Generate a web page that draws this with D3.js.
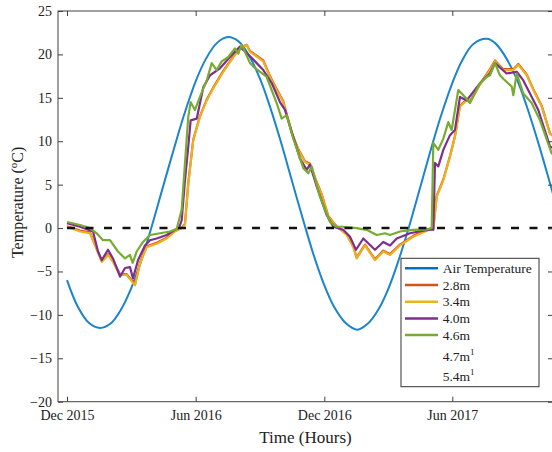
<!DOCTYPE html>
<html>
<head>
<meta charset="utf-8">
<script src="https://cdn.jsdelivr.net/npm/d3@7"></script>
<style>
    body { margin: 0; background: #fff; }
    svg { display: block; font-family: "Liberation Serif", "Times New Roman", serif; }
</style>
</head>
<body>
<div id="chart"></div>
<script>
// time is stored as days since 1 Dec 2015
var startDate = new Date(2015, 11, 1);

var xTickDates = [new Date(2015, 11, 1), new Date(2016, 5, 1), new Date(2016, 11, 1), new Date(2017, 5, 1)];
var yTicks = [-20, -15, -10, -5, 0, 5, 10, 15, 20, 25];

var airDays = [0, 15, 31, 47, 62, 76, 91, 105, 122, 136, 152, 166, 183, 197, 213, 229, 244, 258, 275, 289,
    305, 319, 336, 350, 366, 380, 397, 413, 428, 442, 456, 470, 487, 501, 517, 531, 548, 562, 578, 597,
    609, 623, 640, 654, 670, 684, 701];
var airTemp = [-6.0, -9.0, -10.9, -11.5, -11.0, -9.5, -7.0, -3.9, 0.6, 4.6, 9.1, 12.9, 16.9, 19.4, 21.3, 22.0,
    21.5, 20.0, 17.1, 13.9, 9.7, 5.7, 0.9, -2.9, -6.6, -9.1, -11.0, -11.7, -11.0, -9.5, -7.2, -4.1, 0.3, 4.3,
    8.9, 12.7, 16.7, 19.3, 21.2, 21.8, 21.3, 19.8, 17.1, 14.0, 9.9, 6.0, 1.1];

// [day, temperature]
var depth28 = [[0,0.2],[18.5,-0.3],[32.7,-0.5],[39.8,-1.9],[49.4,-3.8],[58.7,-3.0],[65.4,-3.8],[75.4,-5.3],
    [84.9,-5.3],[96.7,-6.5],[103.8,-4.0],[113.3,-2.1],[127.6,-1.7],[141.8,-1.1],[153.6,-0.3],[163.1,0],
    [167.8,0.5],[172.5,5.2],[179.6,10.2],[189.1,12.9],[198.7,14.8],[208.1,16.2],[222.3,18.1],[234.2,19.5],
    [246,20.8],[255.6,21.1],[260.3,20.4],[279.2,19.3],[288.7,17.5],[298.2,16.0],[307.6,14.6],[312.5,13.1],
    [319.6,11.0],[328.9,9.1],[338.5,7.7],[345.6,7.4],[352.7,5.8],[362.2,3.9],[371.6,1.4],[383.6,0.2],
    [397.8,-0.7],[407.2,-2.1],[412,-3.4],[423.8,-1.9],[438,-3.6],[449.8,-2.6],[459.4,-3.0],[473.6,-1.9],
    [492.5,-0.9],[511.6,-0.2],[521,0],[525.8,3.7],[535.2,5.6],[544.7,8.3],[551.8,10.6],[558.9,14.1],
    [568.5,14.8],[573.1,14.6],[587.4,16.6],[601.6,18.3],[608.7,19.3],[620.5,18.3],[634.8,18.3],[641.9,18.9],
    [653.8,17.7],[663.2,16.0],[675.1,14.1],[686.9,10.9],[701,10.0]];
var depth34 = [[0,0.15],[18.5,-0.4],[32.7,-0.6],[39.8,-2.0],[49.4,-3.9],[58.7,-3.1],[65.4,-3.9],[75.4,-5.4],
    [84.9,-5.4],[96.7,-6.6],[103.8,-4.1],[113.3,-2.2],[127.6,-1.8],[141.8,-1.2],[153.6,-0.4],[163.1,0],
    [167.8,0.4],[172.5,5.1],[179.6,10.1],[189.1,12.8],[198.7,14.7],[208.1,16.1],[222.3,18.0],[234.2,19.4],
    [246,20.7],[255.6,21.1],[260.3,20.3],[279.2,19.2],[288.7,17.4],[298.2,15.9],[307.6,14.5],[312.5,13.0],
    [319.6,10.9],[328.9,9.0],[338.5,7.6],[345.6,7.3],[352.7,5.7],[362.2,3.8],[371.6,1.3],[383.6,0.15],
    [397.8,-0.8],[407.2,-2.2],[412,-3.5],[423.8,-2.0],[438,-3.7],[449.8,-2.7],[459.4,-3.1],[473.6,-2.0],
    [492.5,-1.0],[511.6,-0.3],[521,-0.1],[525.8,3.6],[535.2,5.5],[544.7,8.2],[551.8,10.5],[558.9,14.0],
    [568.5,14.7],[573.1,14.5],[587.4,16.5],[601.6,18.2],[608.7,19.2],[620.5,18.2],[634.8,18.2],[641.9,18.8],
    [653.8,17.6],[663.2,15.9],[675.1,14.0],[686.9,10.9],[701,10.0]];
var depth40 = [[0,0.55],[18.5,0.15],[37,-0.4],[44.1,-2.7],[49.4,-3.7],[58.3,-2.5],[65.4,-3.5],[75.4,-5.6],
    [82.5,-4.6],[89.6,-4.5],[93.9,-5.8],[101,-3.7],[110.9,-2.0],[118,-1.4],[127.6,-1.2],[141.8,-0.8],
    [153.6,-0.2],[159.3,0],[163.1,0.9],[167.8,5.5],[172.5,9.4],[175.9,12.4],[184.5,12.6],[193.8,16.2],
    [203.4,17.6],[217.6,18.4],[231.8,19.7],[246,20.9],[265,19.4],[279.2,18.2],[291.1,16.7],[302.9,14.5],
    [310.1,13.6],[319.6,11.1],[331.4,8.0],[340.9,6.7],[345.6,7.3],[355.1,4.8],[369.3,1.5],[378.7,0.15],
    [392.9,-0.2],[402.5,-1.0],[411,-2.5],[421.4,-1.2],[438,-2.5],[449.8,-1.6],[459.4,-2.0],[468.9,-1.2],
    [487.8,-0.6],[506.7,-0.3],[518.7,-0.15],[521,-0.2],[523.4,7.5],[528.1,7.1],[535.2,9.0],[544.7,10.7],
    [551.8,11.3],[558.9,15.1],[568.5,14.7],[587.4,16.7],[601.6,17.8],[608.7,19.0],[625.3,17.8],[639.6,18.0],
    [649,17.0],[658.5,15.5],[670.3,13.6],[686.9,9.4],[701,8.8]];
var depth46 = [[0,0.7],[18.5,0.35],[32.7,0],[42.2,-0.6],[51.2,-1.4],[61.2,-1.4],[72.5,-2.7],[82.5,-3.5],
    [89.6,-3.1],[93.4,-4.0],[99.1,-2.7],[108.1,-1.6],[118,-0.8],[132.3,-0.6],[146.5,-0.4],[156,-0.1],
    [163.1,2.1],[167.8,7.5],[172.5,12.8],[175.9,14.5],[182,13.6],[189.1,15.1],[198.7,17.0],[205.8,19.0],
    [212.9,18.2],[220,19.2],[229.4,19.7],[238.9,20.7],[243.6,20.1],[248.5,21.1],[260.3,19.0],[265,18.6],
    [284,17.4],[298.2,14.4],[305.3,12.6],[312.5,13.0],[321.8,10.3],[336.1,6.9],[343.2,6.3],[348,7.1],
    [359.8,3.6],[374,0.7],[383.6,0.15],[392.9,0.15],[412,0],[426.2,-0.2],[440.5,-0.8],[452.3,-0.6],
    [459.4,-0.8],[473.6,-0.4],[492.5,-0.2],[511.6,-0.15],[518.7,0],[521,9.8],[528.1,9.0],[535.2,10.3],
    [542.3,12.2],[547.1,11.3],[556.5,15.9],[566,15.1],[573.1,14.4],[587.4,16.7],[596.9,17.4],[601.6,17.6],
    [608.7,19.0],[615.8,17.6],[620.5,17.2],[632.5,16.3],[634.8,15.3],[639.6,17.8],[649,15.5],[660.9,14.4],
    [672.7,12.4],[689.3,8.6],[701,8.0]];

var zeroLineValue = 0;

var legendLabels = ["Air Temperature", "2.8m", "3.4m", "4.0m", "4.6m", "4.7m", "5.4m"];
var legendSup = [false, false, false, false, false, true, true];
var seriesColors = ["#1c84cc", "#D95319", "#EDB120", "#7E2F8E", "#77AC30"];

var width = 552, height = 452;
var plotLeft = 58, plotRight = 553, plotTop = 11, plotBottom = 401.7;

function dayToDate(d) {
    return new Date(startDate.getTime() + d * 864e5);
}

var svg = d3.select("#chart").append("svg")
    .attr("width", width)
    .attr("height", height);

var x = d3.scaleTime()
    .domain([xTickDates[0], xTickDates[3]])
    .range([67, 452.3]);
var y = d3.scaleLinear()
    .domain([-20, 25])
    .range([plotBottom, plotTop]);

svg.append("clipPath").attr("id", "plotclip")
    .append("rect")
    .attr("x", plotLeft).attr("y", plotTop)
    .attr("width", plotRight - plotLeft).attr("height", plotBottom - plotTop);

var plot = svg.append("g").attr("clip-path", "url(#plotclip)");

var airData = airDays.map((d, i) => [d, airTemp[i]]);
var allSeries = [airData, depth28, depth34, depth40, depth46];

var line = d3.line()
    .x(d => x(dayToDate(d[0])))
    .y(d => y(d[1]));

allSeries.forEach(function(s, i) {
    plot.append("path")
        .attr("fill", "none")
        .attr("stroke", seriesColors[i])
        .attr("stroke-width", i == 0 ? 2 : 2.2)
        .attr("stroke-linejoin", "round")
        .attr("d", i == 0 ? line.curve(d3.curveCatmullRom)(s) : line.curve(d3.curveLinear)(s));
});

// dashed freezing line
var lastDay = d3.max(depth46, d => d[0]);
plot.append("path")
    .attr("fill", "none")
    .attr("stroke", "#111")
    .attr("stroke-width", 2.6)
    .attr("stroke-dasharray", "8,10.5")
    .attr("d", line.curve(d3.curveLinear)([[0, zeroLineValue], [lastDay, zeroLineValue]]));

// axes
var axisColor = "#404040";
var fmt = d3.timeFormat("%b %Y");

var gx = svg.append("g")
    .attr("transform", "translate(0," + plotBottom + ")")
    .call(d3.axisBottom(x).tickValues(xTickDates).tickFormat(fmt).tickSizeInner(-5).tickSizeOuter(0).tickPadding(8));
var gxTop = svg.append("g")
    .attr("transform", "translate(0," + plotTop + ")")
    .call(d3.axisTop(x).tickValues(xTickDates).tickFormat("").tickSizeInner(-5).tickSizeOuter(0));
var gy = svg.append("g")
    .attr("transform", "translate(" + plotLeft + ",0)")
    .call(d3.axisLeft(y).tickValues(yTicks).tickSizeInner(-5).tickSizeOuter(0).tickPadding(6));
var gyRight = svg.append("g")
    .attr("transform", "translate(" + plotRight + ",0)")
    .call(d3.axisRight(y).tickValues(yTicks).tickFormat("").tickSizeInner(-5).tickSizeOuter(0));

[gx, gxTop, gy, gyRight].forEach(function(g) {
    g.selectAll(".domain").remove();
    g.selectAll("line").attr("stroke", axisColor);
    g.selectAll("text")
        .attr("fill", "#222")
        .style("font-family", "'Liberation Serif', serif")
        .style("font-size", "14px");
});

svg.append("rect")
    .attr("x", plotLeft).attr("y", plotTop)
    .attr("width", plotRight - plotLeft).attr("height", plotBottom - plotTop)
    .attr("fill", "none")
    .attr("stroke", axisColor)
    .attr("stroke-width", 1);

// axis labels
svg.append("text")
    .attr("x", (plotLeft + plotRight) / 2)
    .attr("y", 443)
    .attr("text-anchor", "middle")
    .style("font-size", "17px")
    .attr("fill", "#222")
    .text("Time (Hours)");

var ylab = svg.append("text")
    .attr("transform", "translate(23," + ((plotTop + plotBottom) / 2 - 4) + ") rotate(-90)")
    .attr("text-anchor", "middle")
    .style("font-size", "16px")
    .attr("fill", "#222");
ylab.append("tspan").text("Temperature (");
ylab.append("tspan").attr("dy", -6).style("font-size", "11px").text("o");
ylab.append("tspan").attr("dy", 6).text("C)");

// legend
var legend = svg.append("g");
legend.append("rect")
    .attr("x", 401).attr("y", 258.3)
    .attr("width", 138).attr("height", 128.4)
    .attr("fill", "#fff")
    .attr("stroke", "#333")
    .attr("stroke-width", 1);

var rowY = [268.3, 285, 301.7, 318.5, 335, 356.7, 376];
legendLabels.forEach(function(lab, i) {
    if (i < seriesColors.length) {
        legend.append("line")
            .attr("x1", 405).attr("x2", 438)
            .attr("y1", rowY[i]).attr("y2", rowY[i])
            .attr("stroke", i == 0 ? "#0072BD" : seriesColors[i])
            .attr("stroke-width", 2.5);
    }
    var t = legend.append("text")
        .attr("x", 442.7)
        .attr("y", rowY[i] + 4.5)
        .style("font-size", "13.5px")
        .attr("fill", "#222")
        .text(lab);
    if (legendSup[i]) {
        t.append("tspan").attr("dy", -6).style("font-size", "9px").text("1");
    }
});
</script>
</body>
</html>
